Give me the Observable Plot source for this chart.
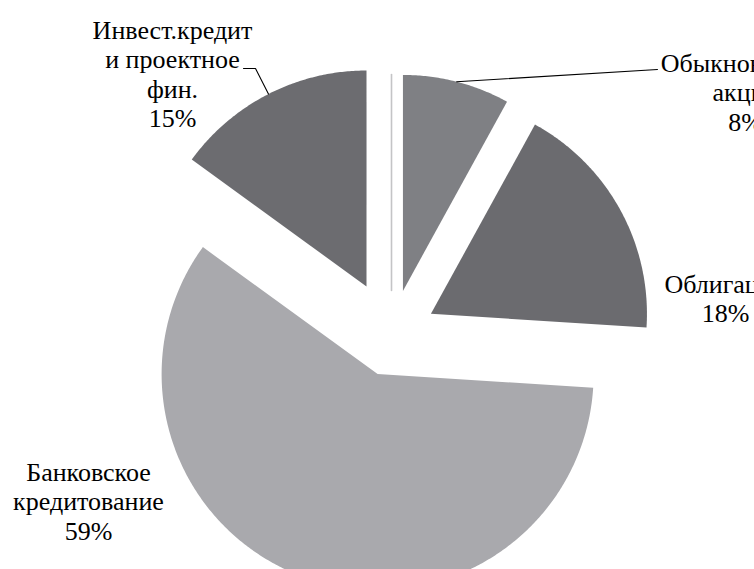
<!DOCTYPE html>
<html>
<head>
<meta charset="utf-8">
<script src="https://cdn.jsdelivr.net/npm/d3@7"></script>
<script src="https://cdn.jsdelivr.net/npm/@observablehq/plot@0.6"></script>
<style>
  html, body { margin: 0; padding: 0; background: #fff; }
</style>
</head>
<body>
<div id="chart"></div>
<script>
// ---- data ----
const categories = ["(0)", "Обыкновенные акции", "Облигации", "Банковское кредитование", "Инвест.кредит и проектное фин."];
const values = [0, 8, 18, 59, 15];
const nameLines = [
  [],
  ["Обыкновенные", "акции"],
  ["Облигации"],
  ["Банковское", "кредитование"],
  ["Инвест.кредит", "и проектное", "фин."]
];

// ---- styles / layout ----
const colors = ["#c4c4c6", "#7f8084", "#6b6b6f", "#a9a9ad", "#6c6c70"];
const W = 754, H = 569;
const CX = 391, CY = 335, R = 216;
const explode = [45, 46, 45, 41, 55];
const labelPos = [null, [745, 63], [725, 284], [88, 472], [172, 30]];
const LH = 29.5;
const FONT = "Liberation Serif";

// ---- geometry from data ----
const total = d3.sum(values);
let acc = 0;
const slices = categories.map((name, i) => {
  const a0 = acc / total * 2 * Math.PI;
  acc += values[i];
  const a1 = acc / total * 2 * Math.PI;
  const mid = (a0 + a1) / 2;
  const ox = CX + explode[i] * Math.sin(mid);
  const oy = CY - explode[i] * Math.cos(mid);
  return {name, i, value: values[i], a0, a1, mid, ox, oy};
});

const polyPts = [];
slices.forEach(s => {
  if (s.value === 0) return;
  polyPts.push({i: s.i, x: s.ox, y: s.oy});
  const n = Math.max(2, Math.ceil((s.a1 - s.a0) / (Math.PI / 360)));
  for (let k = 0; k <= n; k++) {
    const a = s.a0 + (s.a1 - s.a0) * k / n;
    polyPts.push({i: s.i, x: s.ox + R * Math.sin(a), y: s.oy - R * Math.cos(a)});
  }
  polyPts.push({i: s.i, x: s.ox, y: s.oy});
});

// zero slice drawn as its edge
const zeroPts = [];
slices.filter(s => s.value === 0).forEach(s => {
  zeroPts.push({i: s.i, x: s.ox, y: s.oy});
  zeroPts.push({i: s.i, x: s.ox + R * Math.sin(s.a0), y: s.oy - R * Math.cos(s.a0)});
});

// text rows
const textRows = [];
slices.forEach(s => {
  if (!labelPos[s.i]) return;
  const lines = [...nameLines[s.i], `${s.value}%`];
  const [lx, ly] = labelPos[s.i];
  lines.forEach((t, k) => textRows.push({text: t, x: lx, y: ly + k * LH}));
});

// leader lines: from slice arc at mid-angle to label
const arcPt = s => ({x: s.ox + R * Math.sin(s.mid), y: s.oy - R * Math.cos(s.mid)});
const leaders = [];
{
  const s = slices[1], p = arcPt(s);
  leaders.push({id: 1, x: p.x, y: p.y}, {id: 1, x: 657, y: 69});
}
{
  const s = slices[4], p = arcPt(s);
  leaders.push({id: 4, x: p.x, y: p.y}, {id: 4, x: 255, y: 68}, {id: 4, x: 243, y: 68});
}

const chart = Plot.plot({
  width: W,
  height: H,
  margin: 0,
  x: {domain: [0, W], range: [0, W], axis: null},
  y: {domain: [0, H], range: [0, H], axis: null},
  color: {type: "identity"},
  marks: [
    Plot.line(polyPts, {x: "x", y: "y", z: "i", fill: d => colors[d.i], stroke: "none"}),
    Plot.line(zeroPts, {x: "x", y: "y", z: "i", stroke: d => colors[d.i], strokeWidth: 1.6}),
    Plot.line(leaders, {x: "x", y: "y", z: "id", stroke: "#000", strokeWidth: 1.1}),
    Plot.text(textRows, {x: "x", y: "y", text: "text", fontSize: 26, fill: "#000",
      textAnchor: "middle", lineAnchor: "middle", fontFamily: FONT})
  ]
});
d3.select(chart).selectAll("text").attr("font-family", FONT).style("font-family", FONT);
document.getElementById("chart").appendChild(chart);
</script>
</body>
</html>
